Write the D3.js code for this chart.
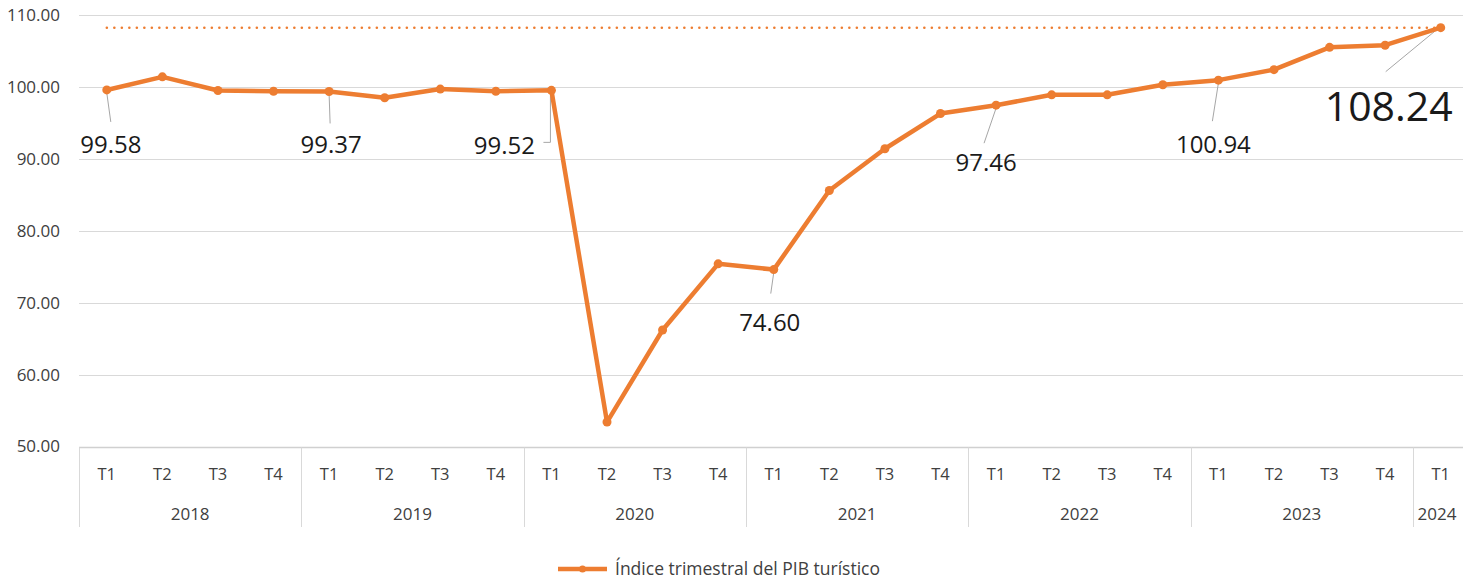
<!DOCTYPE html>
<html lang="es">
  <head>
    <meta charset="utf-8" />
    <title>Índice trimestral del PIB turístico</title>
    <script src="https://d3js.org/d3.v7.min.js" charset="utf-8"></script>
    <style>
      body { margin: 0; background: #fff; }
      svg { display: block; font-family: "Open Sans", sans-serif; }
      .grid line { stroke: #d9d9d9; stroke-width: 1; }
      .ytick { font-size: 17px; fill: #404040; }
      .qlab { font-size: 16.5px; fill: #404040; }
      .ylab { font-size: 17px; fill: #404040; }
      .dlab { fill: #1a1a1a; }
    </style>
  </head>
  <body>
    <script>
      // data
      var years = ["2018", "2019", "2020", "2021", "2022", "2023", "2024"];
      var quarters = ["T1", "T2", "T3", "T4"];
      var values = [
        99.58, 101.4, 99.5, 99.4,
        99.37, 98.5, 99.7, 99.4,
        99.52, 53.4, 66.2, 75.4,
        74.60, 85.6, 91.4, 96.3,
        97.46, 98.9, 98.9, 100.3,
        100.94, 102.4, 105.5, 105.8,
        108.24
      ];
      var yTicks = [50, 60, 70, 80, 90, 100, 110];
      var labelled = [0, 4, 8, 12, 16, 20, 24];
      var refValue = 108.24;
      var seriesName = "Índice trimestral del PIB turístico";

      // build category list (year, quarter)
      var cats = [];
      years.forEach(function (y) {
        quarters.forEach(function (q) {
          if (cats.length < values.length) cats.push({ year: y, q: q, key: y + q });
        });
      });

      var W = 1463, H = 581;
      var orange = "#ED7D31";
      var left = 79, bandW = 55.58;

      var x = d3.scaleBand()
        .domain(cats.map(d => d.key))
        .range([left, left + bandW * cats.length])
        .paddingInner(0).paddingOuter(0);
      var y = d3.scaleLinear().domain([50, 110]).range([446.5, 15]);

      var svg = d3.select("body").append("svg")
        .attr("width", W).attr("height", H);

      // gridlines
      svg.append("g").attr("class", "grid")
        .selectAll("line").data(yTicks.filter(t => t > 50)).join("line")
        .attr("x1", left).attr("x2", x.range()[1])
        .attr("y1", d => Math.round(y(d)) + 0.5).attr("y2", d => Math.round(y(d)) + 0.5);

      // y tick labels
      svg.append("g").selectAll("text").data(yTicks).join("text")
        .attr("class", "ytick")
        .attr("x", 60).attr("y", d => y(d))
        .attr("dy", "0.35em")
        .attr("text-anchor", "end")
        .text(d => d.toFixed(2));

      // x axis: base line, group separators and labels
      var axisY = Math.round(y(50)) + 0.5;
      var axisG = svg.append("g");
      axisG.append("line")
        .attr("x1", left).attr("x2", x.range()[1])
        .attr("y1", axisY).attr("y2", axisY)
        .attr("stroke", "#d0d0d0").attr("stroke-width", 1.5);

      var yearStarts = years.map(function (yr) {
        var c = cats.filter(d => d.year === yr);
        return { year: yr, x0: x(c[0].key), x1: x(c[c.length - 1].key) + x.bandwidth() };
      });

      axisG.selectAll("line.sep").data(yearStarts).join("line")
        .attr("class", "sep")
        .attr("x1", d => Math.round(d.x0) + 0.5).attr("x2", d => Math.round(d.x0) + 0.5)
        .attr("y1", axisY).attr("y2", 527)
        .attr("stroke", "#d9d9d9").attr("stroke-width", 1);

      axisG.selectAll("text.qlab").data(cats).join("text")
        .attr("class", "qlab")
        .attr("x", d => x(d.key) + x.bandwidth() / 2)
        .attr("y", 474).attr("dy", "0.35em")
        .attr("text-anchor", "middle")
        .text(d => d.q);

      axisG.selectAll("text.ylab").data(yearStarts).join("text")
        .attr("class", "ylab")
        .attr("x", d => (d.x0 + Math.min(d.x1, W)) / 2 + (d.x1 > W ? -1 : 0))
        .attr("y", 514).attr("dy", "0.35em")
        .attr("text-anchor", "middle")
        .text(d => d.year);

      // dotted reference line at the last value
      svg.append("line")
        .attr("x1", x(cats[0].key) + x.bandwidth() / 2)
        .attr("x2", x(cats[cats.length - 1].key) + x.bandwidth() / 2)
        .attr("y1", y(refValue)).attr("y2", y(refValue))
        .attr("stroke", orange).attr("stroke-width", 2.5)
        .attr("stroke-linecap", "round")
        .attr("stroke-dasharray", "0.1,7.4");

      // series line
      var pts = values.map((v, i) => ({ v: v, i: i, cx: x(cats[i].key) + x.bandwidth() / 2, cy: y(v) }));
      var line = d3.line().x(d => d.cx).y(d => d.cy);

      // leader lines + labels (offsets relative to the point)
      var layout = {
        0:  { tx: 4,   ty: 63,  size: 24, leader: [[0, 3], [4, 32]] },
        4:  { tx: 2,   ty: 62,  size: 24, leader: [[0, 3], [1, 32]] },
        8:  { tx: -47, ty: 64,  size: 24, leader: [[-1, 4], [-1, 52], [-8, 52]] },
        12: { tx: -4,  ty: 61,  size: 24, leader: [[0, 3], [-3, 24]] },
        16: { tx: -10, ty: 66,  size: 24, leader: [[0, 3], [-12, 38]] },
        20: { tx: -5,  ty: 73,  size: 24, leader: [[0, 3], [-6, 41]] },
        24: { tx: -52, ty: 93,  size: 41, leader: [[-4, 2], [-55, 44]] }
      };

      var ann = svg.append("g");
      labelled.forEach(function (i) {
        var p = pts[i], L = layout[i];
        ann.append("path")
          .attr("d", d3.line()(L.leader.map(o => [p.cx + o[0], p.cy + o[1]])))
          .attr("fill", "none").attr("stroke", "#a6a6a6").attr("stroke-width", 1);
      });

      svg.append("path").datum(pts)
        .attr("d", line)
        .attr("fill", "none").attr("stroke", orange)
        .attr("stroke-width", 4.5).attr("stroke-linejoin", "round");

      svg.append("g").selectAll("circle").data(pts).join("circle")
        .attr("cx", d => d.cx).attr("cy", d => d.cy).attr("r", 4.5)
        .attr("fill", orange);

      labelled.forEach(function (i) {
        var p = pts[i], L = layout[i];
        ann.append("text")
          .attr("class", "dlab")
          .attr("x", p.cx + L.tx).attr("y", p.cy + L.ty)
          .attr("text-anchor", "middle")
          .style("font-size", L.size + "px")
          .text(values[i].toFixed(2));
      });

      // legend
      var lg = svg.append("g").attr("transform", "translate(558,569)");
      lg.append("line").attr("x1", 0).attr("x2", 49).attr("y1", 0).attr("y2", 0)
        .attr("stroke", orange).attr("stroke-width", 4.5);
      lg.append("circle").attr("cx", 24.5).attr("cy", 0).attr("r", 3.5).attr("fill", orange);
      lg.append("text").attr("x", 57).attr("y", 0).attr("dy", "0.35em")
        .style("font-size", "17.5px").attr("fill", "#404040")
        .text(seriesName);
    </script>
  </body>
</html>
